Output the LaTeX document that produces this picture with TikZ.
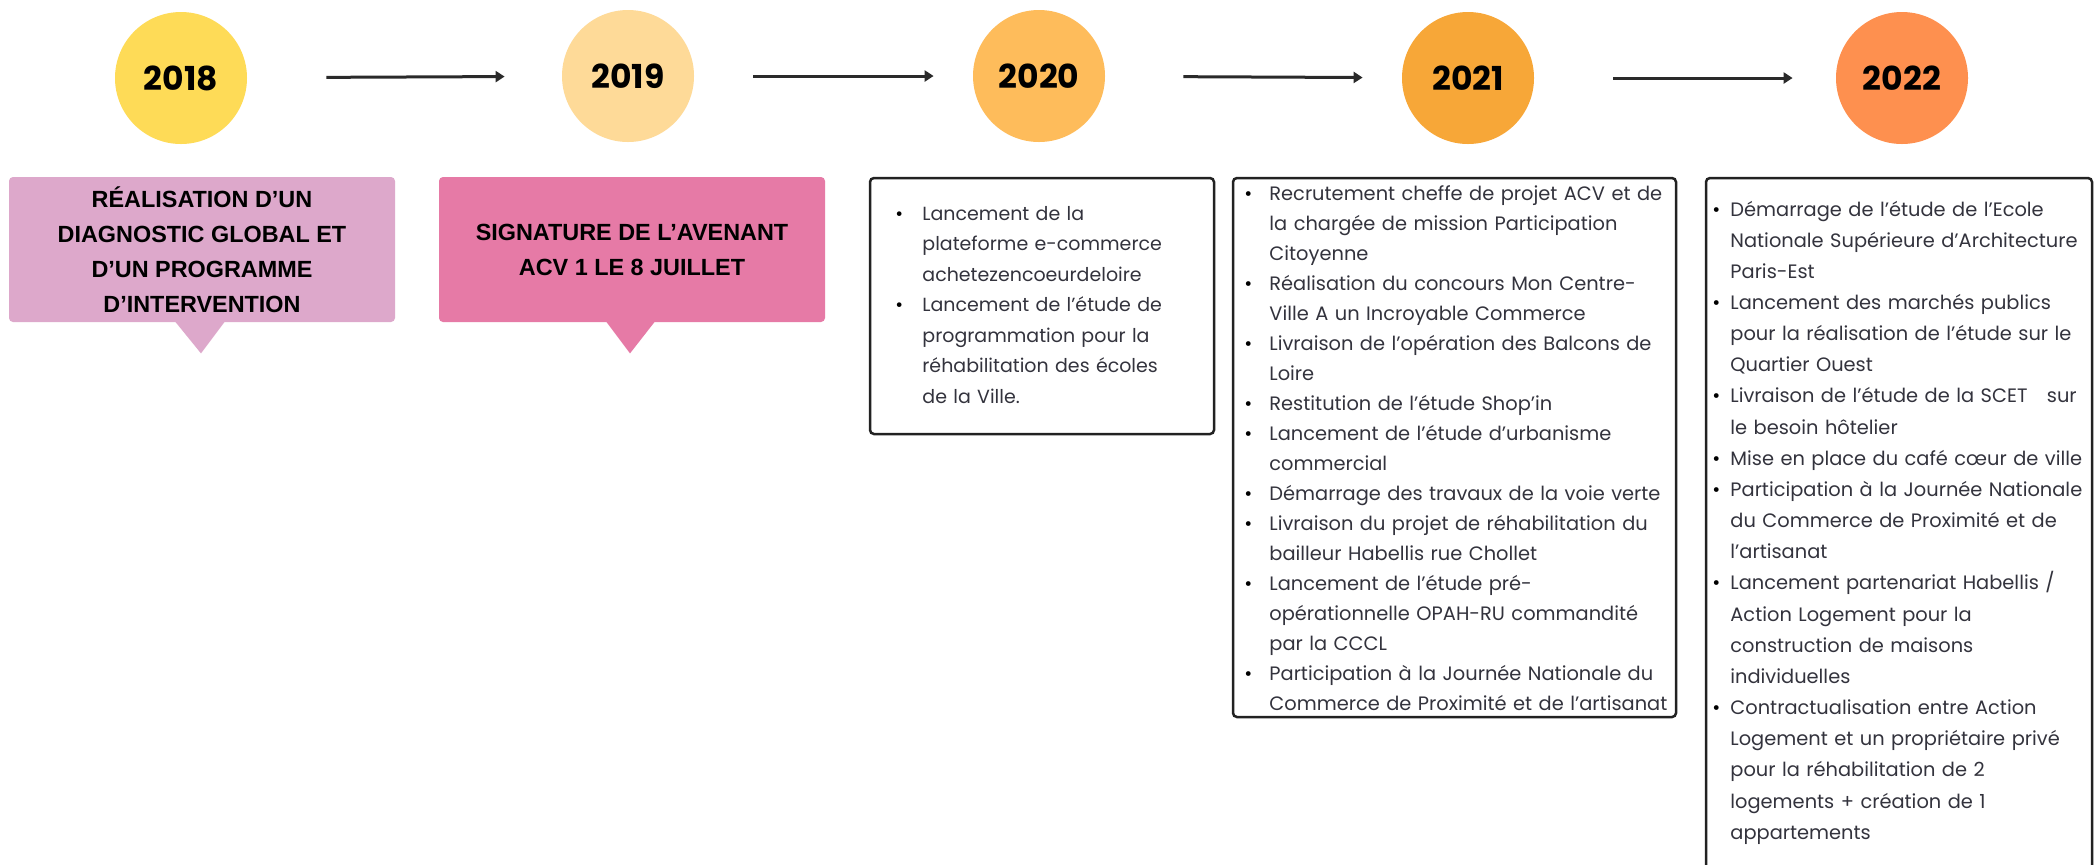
\documentclass[tikz,border=0pt]{standalone}
\usepackage{fontspec}
\setmainfont{Poppins}
\newfontfamily\titlefont{Liberation Sans}
\usetikzlibrary{arrows.meta,calc}
\definecolor{cA}{HTML}{FEDB57}
\definecolor{cB}{HTML}{FEDA98}
\definecolor{cC}{HTML}{FEBC5B}
\definecolor{cD}{HTML}{F7A738}
\definecolor{cE}{HTML}{FE904F}
\definecolor{mauve}{HTML}{DDA8CB}
\definecolor{pinkbox}{HTML}{E67AA6}
\definecolor{arrowgray}{HTML}{2A2A2A}
\definecolor{framegray}{HTML}{222222}
\definecolor{bodygray}{HTML}{33333D}
\newcommand{\bu}{\makebox[\bw][l]{\textcolor{black}{\textbullet}}}
\newcommand{\nb}{\makebox[\bw]{}}
\begin{document}
\begin{tikzpicture}[x=0.5pt,y=-0.5pt,
  yearnode/.style={circle, minimum size=66pt, inner sep=0pt,
    font=\fontsize{16.5pt}{18pt}\selectfont\bfseries, text=black},
  arr/.style={-{Triangle[length=4.5pt,width=5.5pt]}, line width=1.5pt, draw=arrowgray},
  callout/.style={rounded corners=2pt, align=center, inner sep=0pt,
    minimum width=193pt, minimum height=72.5pt,
    font=\titlefont\bfseries\fontsize{11.7pt}{17.5pt}\selectfont, text=black},
  frame/.style={draw=framegray, line width=1.25pt, rounded corners=2pt},
  listtext/.style={anchor=base west, align=left, inner sep=0pt, text=bodygray, text width=260pt}
]
\useasboundingbox (0,0) rectangle (2100,864);
\fill[white] (0,0) rectangle (2100,864);

% year circles
\node[yearnode, fill=cA] (y18) at (181,78) {2018};
\node[yearnode, fill=cB] (y19) at (628,76) {2019};
\node[yearnode, fill=cC] (y20) at (1039,76) {2020};
\node[yearnode, fill=cD] (y21) at (1468,78) {2021};
\node[yearnode, fill=cE] (y22) at (1902,78) {2022};

% arrows
\draw[arr, shorten <=39.5pt, shorten >=28.5pt] (y18) -- (y19);
\draw[arr, shorten <=29.5pt, shorten >=19.5pt] (y19) -- (y20);
\draw[arr, shorten <=39pt, shorten >=19.5pt] (y20) -- (y21);
\draw[arr, shorten <=39.5pt, shorten >=21.5pt] (y21) -- (y22);

% callouts
\node[callout, fill=mauve] (b18) at (202,249.5) {RÉALISATION D’UN\\DIAGNOSTIC GLOBAL ET\\D’UN PROGRAMME\\D’INTERVENTION};
\fill[mauve] ($(b18.south)+(-27,-1)$) -- ($(b18.south)+(23,-1)$) -- ($(b18.south)+(-1,31)$) -- cycle;
\node[callout, fill=pinkbox] (b19) at (632,249.5) {SIGNATURE DE L’AVENANT\\ACV 1 LE 8 JUILLET};
\fill[pinkbox] ($(b19.south)+(-26,-1)$) -- ($(b19.south)+(23,-1)$) -- ($(b19.south)+(-2,31)$) -- cycle;

% frames
\node[frame, minimum width=172pt, minimum height=128pt] (f20) at (1042,306) {};
\node[frame, minimum width=221.5pt, minimum height=269.5pt] (f21) at (1454.5,447.5) {};
\draw[framegray, line width=1.25pt, rounded corners=2pt] (1706,880) -- (1706,178) -- (2092,178) -- (2092,880);
\coordinate (f22) at (1706,178);

% list texts
\def\bw{13.5pt}
\node[listtext, font=\fontsize{9.5pt}{15.25pt}\selectfont] (t20) at (895,220) {%
\bu Lancement de la\\
\nb plateforme e-commerce\\
\nb achetezencoeurdeloire\\
\bu Lancement de l’étude de\\
\nb programmation pour la\\
\nb réhabilitation des écoles\\
\nb de la Ville.};

\def\bw{12.5pt}
\node[listtext, font=\fontsize{9.7pt}{15pt}\selectfont] (t21) at (1244,200.5) {%
\bu Recrutement cheffe de projet ACV et de\\
\nb la chargée de mission Participation\\
\nb Citoyenne\\
\bu Réalisation du concours Mon Centre-\\
\nb Ville A un Incroyable Commerce\\
\bu Livraison de l’opération des Balcons de\\
\nb Loire\\
\bu Restitution de l’étude Shop’in\\
\bu Lancement de l’étude d’urbanisme\\
\nb commercial\\
\bu Démarrage des travaux de la voie verte\\
\bu Livraison du projet de réhabilitation du\\
\nb bailleur Habellis rue Chollet\\
\bu Lancement de l’étude pré-\\
\nb opérationnelle OPAH-RU commandité\\
\nb par la CCCL\\
\bu Participation à la Journée Nationale du\\
\nb Commerce de Proximité et de l’artisanat};

\def\bw{9pt}
\node[listtext, font=\fontsize{9.7pt}{15.58pt}\selectfont] (t22) at (1712,216) {%
\bu Démarrage de l’étude de l’Ecole\\
\nb Nationale Supérieure d’Architecture\\
\nb Paris-Est\\
\bu Lancement des marchés publics\\
\nb pour la réalisation de l’étude sur le\\
\nb Quartier Ouest\\
\bu Livraison de l’étude de la SCET \ \ sur\\
\nb le besoin hôtelier\\
\bu Mise en place du café cœur de ville\\
\bu Participation à la Journée Nationale\\
\nb du Commerce de Proximité et de\\
\nb l’artisanat\\
\bu Lancement partenariat Habellis /\\
\nb Action Logement pour la\\
\nb construction de maisons\\
\nb individuelles\\
\bu Contractualisation entre Action\\
\nb Logement et un propriétaire privé\\
\nb pour la réhabilitation de 2\\
\nb logements + création de 1\\
\nb appartements};
\end{tikzpicture}
\end{document}
